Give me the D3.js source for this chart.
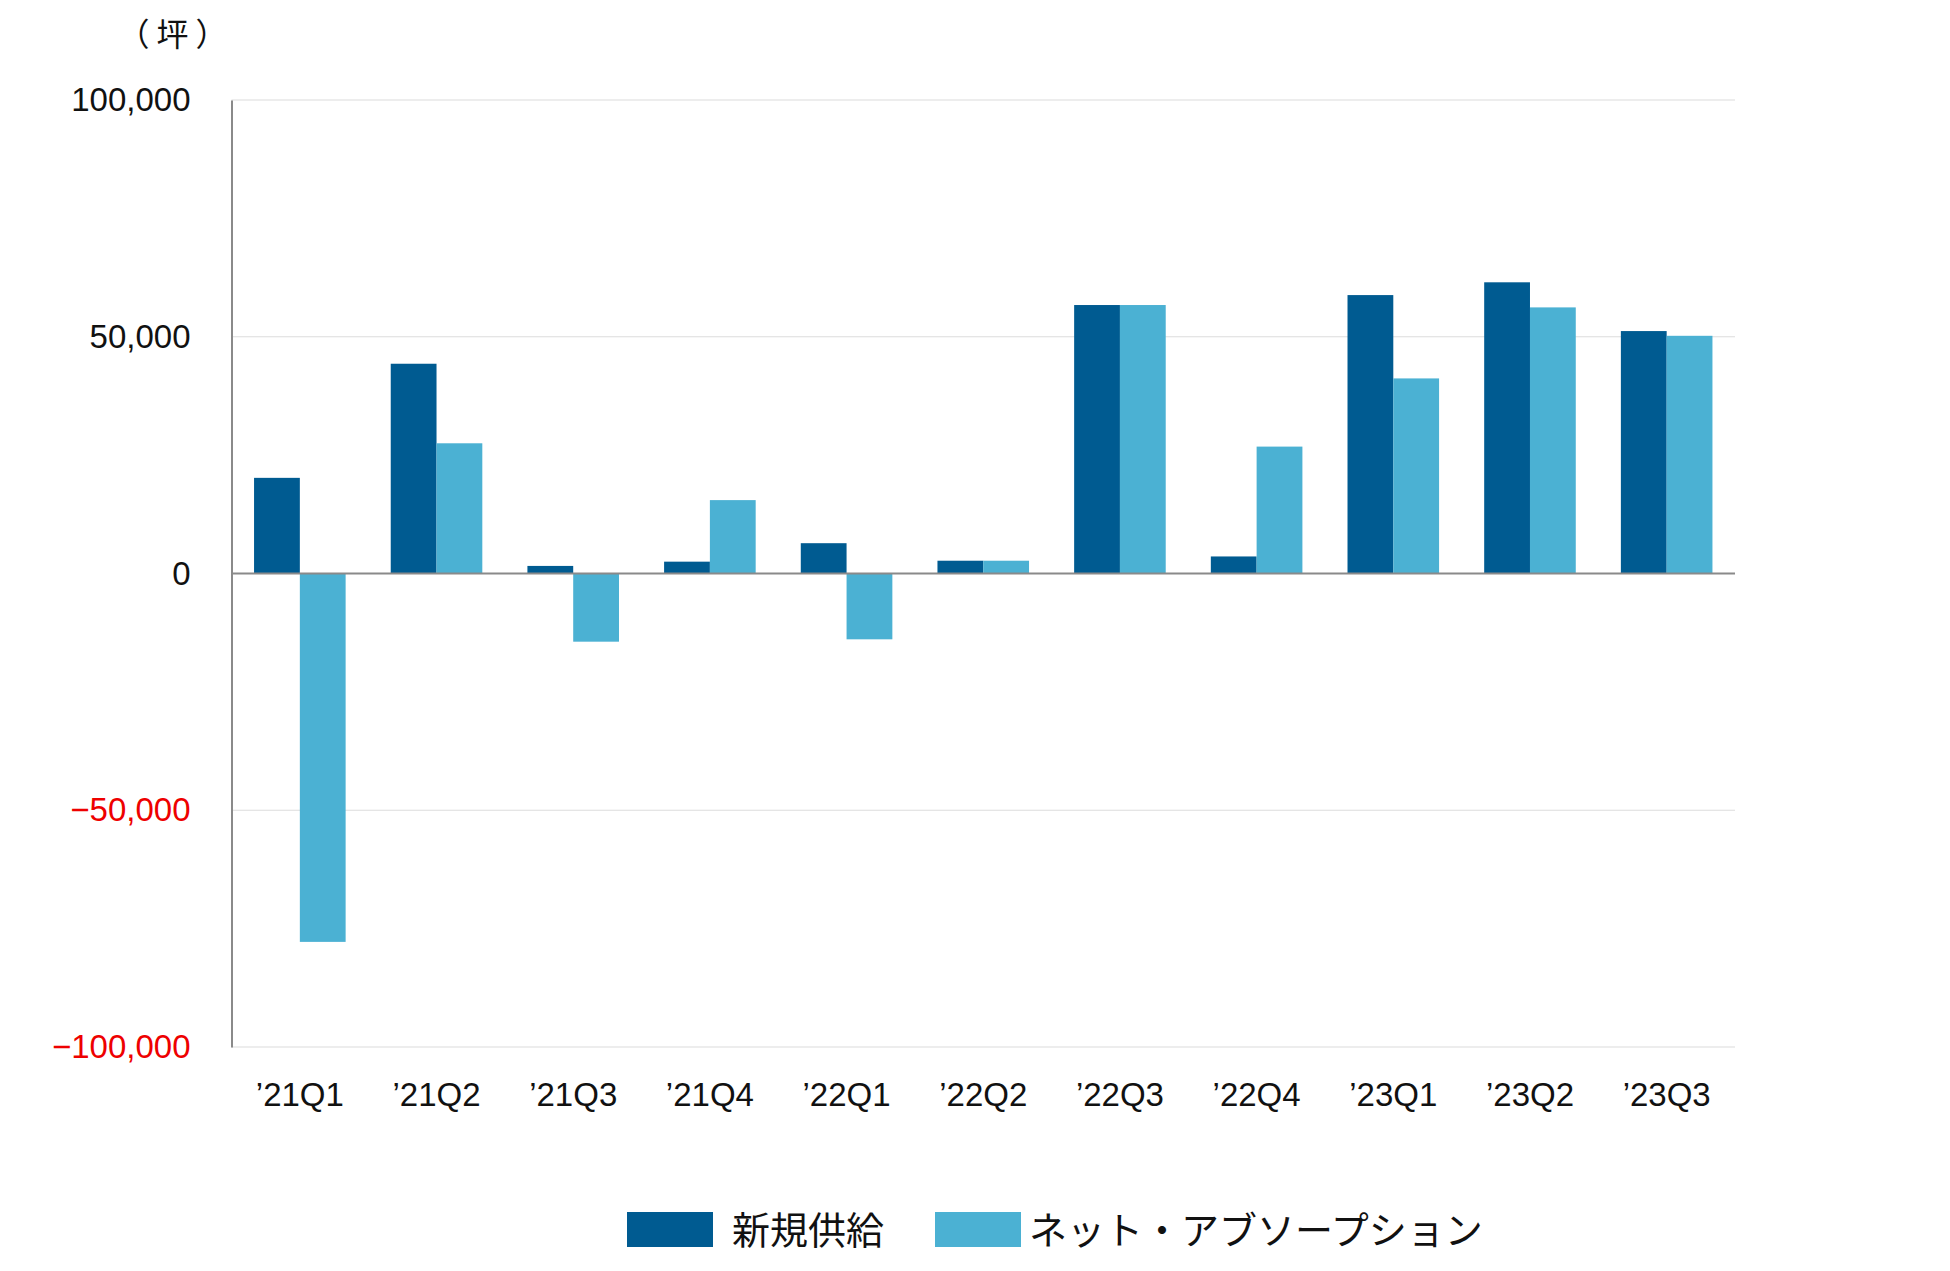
<!DOCTYPE html>
<html>
<head>
<meta charset="utf-8">
<script src="https://cdn.jsdelivr.net/npm/d3@7"></script>
<style>
  html, body { margin: 0; padding: 0; background: #ffffff; }
  svg { display: block; }
</style>
</head>
<body>
<svg id="chart" width="1950" height="1271"></svg>
<script>
const categories = ["\u201921Q1", "\u201921Q2", "\u201921Q3", "\u201921Q4", "\u201922Q1", "\u201922Q2", "\u201922Q3", "\u201922Q4", "\u201923Q1", "\u201923Q2", "\u201923Q3"];
const supply = [20200, 44300, 1600, 2500, 6400, 2700, 56700, 3600, 58800, 61500, 51200];
const absorption = [-77800, 27500, -14400, 15500, -13900, 2700, 56700, 26800, 41200, 56200, 50200];
const seriesNames = ["新規供給", "ネット・アブソープション"];
const seriesColors = ["#005b91", "#4bb1d3"];
const yTicks = [100000, 50000, 0, -50000, -100000];
const unitLabel = "（坪）";

(function () {
const svg = d3.select("#chart");
const mLeft = 231.5, mRight = 1735, mTop = 100, mBottom = 1047;
const numFont = "'Liberation Sans', Arial, sans-serif";
const jpFont = "'Noto Sans CJK JP', sans-serif";

const x = d3.scaleBand().domain(categories).range([mLeft, mRight]).paddingInner(0.33).paddingOuter(0.165);
const series = [supply, absorption];
const xs = d3.scaleBand().domain(d3.range(series.length)).range([0, x.bandwidth()]);
const y = d3.scaleLinear().domain([-100000, 100000]).range([mBottom, mTop]);

// gridlines
svg.append("g").selectAll("line").data(yTicks.filter(d => d !== 0)).join("line")
  .attr("x1", mLeft).attr("x2", mRight)
  .attr("y1", d => y(d)).attr("y2", d => y(d))
  .attr("stroke", "#dcdcdc").attr("stroke-width", 1.2);

// bars
const rows = categories.map((c, i) => ({ c, vals: series.map(s => s[i]) }));
const g = svg.append("g").selectAll("g").data(rows).join("g")
  .attr("transform", d => `translate(${x(d.c)},0)`);
g.selectAll("rect").data(d => d.vals.map((v, k) => ({ v, k }))).join("rect")
  .attr("x", d => xs(d.k))
  .attr("width", xs.bandwidth())
  .attr("y", d => Math.min(y(d.v), y(0)))
  .attr("height", d => Math.abs(y(d.v) - y(0)))
  .attr("fill", d => seriesColors[d.k]);

// zero line
svg.append("line").attr("x1", mLeft).attr("x2", mRight).attr("y1", y(0)).attr("y2", y(0))
  .attr("stroke", "#8a8a8a").attr("stroke-width", 2);

// y axis
const yAxis = d3.axisLeft(y).tickValues(yTicks).tickSize(0).tickPadding(41).tickFormat(d3.format(","));
const ya = svg.append("g").attr("transform", `translate(${mLeft},0)`).call(yAxis);
ya.select(".domain").attr("stroke", "#8a8a8a").attr("stroke-width", 2);
ya.selectAll("text").attr("font-family", numFont).attr("font-size", 33)
  .attr("fill", d => d < 0 ? "#ee0000" : "#111111");

// x axis labels
const xAxis = d3.axisBottom(x).tickSize(0).tickPadding(36);
const xa = svg.append("g").attr("transform", `translate(0,${mBottom})`).call(xAxis);
xa.select(".domain").remove();
xa.selectAll("text").attr("font-family", numFont).attr("font-size", 33).attr("fill", "#111111");

// unit label
svg.append("text").attr("x", 176).attr("y", 46).attr("text-anchor", "middle")
  .attr("font-family", jpFont).attr("font-size", 32).attr("letter-spacing", 7)
  .attr("fill", "#111111").text(unitLabel);

// legend
const legendItems = [{ x: 627, tx: 732 }, { x: 935, tx: 1029 }];
const lg = svg.append("g").selectAll("g").data(seriesNames).join("g");
lg.append("rect").attr("x", (d, i) => legendItems[i].x).attr("y", 1212).attr("width", 86).attr("height", 35)
  .attr("fill", (d, i) => seriesColors[i]);
lg.append("text").attr("x", (d, i) => legendItems[i].tx).attr("y", 1230).attr("dy", "0.36em")
  .attr("font-family", jpFont).attr("font-size", 38).attr("fill", "#111111").text(d => d);
})();
</script>
</body>
</html>
